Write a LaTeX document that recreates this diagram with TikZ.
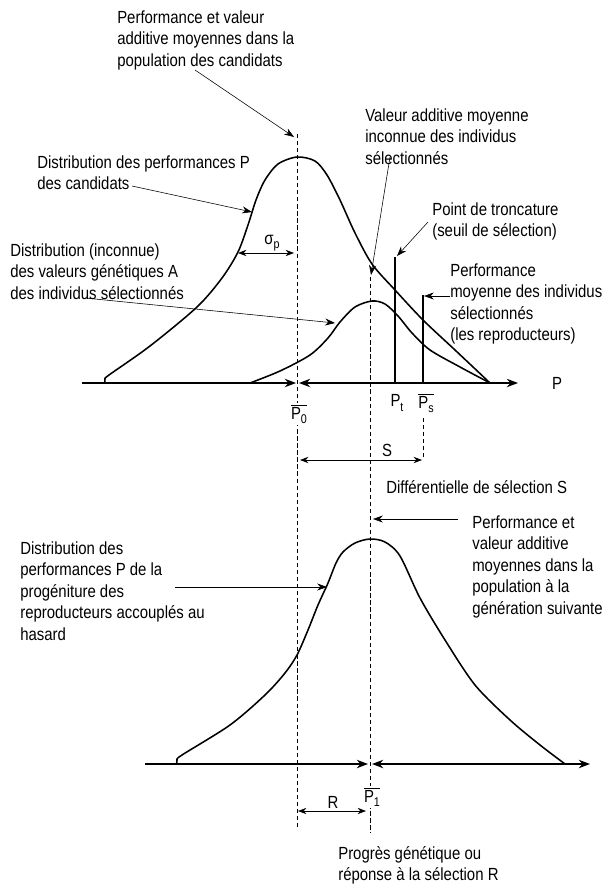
\documentclass[tikz,border=0pt]{standalone}
\usepackage{fontspec}
\setmainfont{Liberation Sans}[FakeStretch=0.85]
\usetikzlibrary{arrows.meta,positioning}

\begin{document}
\begin{tikzpicture}[x=0.025cm, y=-0.025cm,
    lbl/.style={anchor=north west, inner sep=0pt, align=left, font=\fontsize{12.5}{15.4}\selectfont},
    sym/.style={inner sep=1pt, font=\fontsize{12.5}{15}\selectfont},
    curve/.style={line width=1.1pt, line join=round},
    axis/.style={line width=1pt},
    ldr/.style={line width=0.4pt, -{Stealth[length=7pt,width=5pt]}},
    dim/.style={line width=0.5pt, {Stealth[length=6pt,width=4.5pt]}-{Stealth[length=6pt,width=4.5pt]}},
    guide/.style={line width=0.5pt, dash pattern=on 3pt off 2pt}]
    \useasboundingbox (0,0) rectangle (606,886);

    % Guide lines
    \coordinate (gzerotop) at (297,134);
    \coordinate (gzerobot) at (297,830);
    \coordinate (gonetop) at (370,277);
    \coordinate (gonebot) at (370,833);
    \coordinate (gstop) at (423,418);
    \coordinate (gsbot) at (423,460);
    \draw[guide] (gzerotop) -- (gzerobot);
    \draw[guide] (gonetop) -- (gonebot);
    \draw[guide] (gstop) -- (gsbot);

    % Upper axis
    \coordinate (uaxstart) at (82,383);
    \coordinate (uaxzl) at (296,383);
    \coordinate (uaxzr) at (299,383);
    \coordinate (uaxend) at (518,383);
    \draw[axis, -{Stealth[length=8pt,width=6pt]}] (uaxstart) -- (uaxzl);
    \draw[axis, {Stealth[length=8pt,width=6pt]}-{Stealth[length=8pt,width=6pt]}] (uaxzr) -- (uaxend);
    \node[sym] (paxis) at (557,383) {P};

    % Candidates and selected
    \draw[curve] plot[smooth] coordinates {(105,383) (105,379) (109,375) (150,346)
        (197,307) (222,278) (238,252) (248,225) (256,200) (265,180) (278,164) (297,157)
        (315,161) (327,175) (340,200) (355,233) (372,264) (395,290) (423,320) (455,350) (490,383)};
    \draw[curve] plot[smooth] coordinates {(250,383) (280,371) (310,355) (328,338) (340,322)
        (355,307) (372,301) (385,304) (398,316) (412,333) (430,350) (460,367) (490,383)};

    % Truncation and mean of selected
    \coordinate (pttop) at (395,257);
    \coordinate (ptbot) at (395,383);
    \coordinate (pstop) at (423,295);
    \coordinate (psbot) at (423,383);
    \draw[axis] (pttop) -- (ptbot);
    \draw[axis] (pstop) -- (psbot);

    % Symbols
    \node[sym, fill=white] (pzero) at (299,414) {$\overline{\mbox{P\raisebox{-0.45ex}{\small 0}}}$};
    \node[sym] (ptrunc) at (397,403) {P\raisebox{-0.45ex}{\small t}};
    \node[sym] (psel) at (426,403) {$\overline{\mbox{P\raisebox{-0.45ex}{\small s}}}$};
    \node[sym] (sigp) at (272,243) {σ\raisebox{-0.45ex}{\small p}};
    \node[sym] (slbl) at (387,450) {S};

    % Dimensions
    \coordinate (sigl) at (238,253);
    \coordinate (sigr) at (294,253);
    \coordinate (sl) at (300,460);
    \coordinate (sr) at (422,460);
    \draw[dim] (sigl) -- (sigr);
    \draw[dim] (sl) -- (sr);

    % Upper labels
    \node[lbl] (popcand) at (117,10) {Performance et valeur\\additive moyennes dans la\\population des candidats};
    \node[lbl] (distcand) at (37,155) {Distribution des performances P\\des candidats};
    \node[lbl] (distA) at (10,243) {Distribution (inconnue)\\des valeurs génétiques A\\des individus sélectionnés};
    \node[lbl] (valadd) at (365,108) {Valeur additive moyenne\\inconnue des individus\\sélectionnés};
    \node[lbl] (tronc) at (432,202) {Point de troncature\\(seuil de sélection)};
    \node[lbl] (perfsel) at (450,263) {Performance\\moyenne des individus\\sélectionnés\\(les reproducteurs)};
    \node[lbl] (diffsel) at (386,480) {Différentielle de sélection S};

    % Upper leaders
    \coordinate (popcandl) at (195,70);
    \coordinate (popcandt) at (294,137);
    \coordinate (distcandl) at (132,186);
    \coordinate (distcandt) at (252,212);
    \coordinate (distAl) at (85,298);
    \coordinate (distAt) at (335,323);
    \coordinate (valaddl) at (390,157);
    \coordinate (valaddt) at (371,275);
    \coordinate (troncl) at (428,222);
    \coordinate (tronct) at (397,256);
    \coordinate (perfsell) at (450,296);
    \coordinate (perfselt) at (424,296);
    \draw[ldr] (popcandl) -- (popcandt);
    \draw[ldr] (distcandl) -- (distcandt);
    \draw[ldr] (distAl) -- (distAt);
    \draw[ldr] (valaddl) -- (valaddt);
    \draw[ldr] (troncl) -- (tronct);
    \draw[ldr] (perfsell) -- (perfselt);

    % Lower axis
    \coordinate (laxstart) at (145,764);
    \coordinate (laxol) at (368,764);
    \coordinate (laxor) at (372,764);
    \coordinate (laxend) at (590,764);
    \draw[axis, -{Stealth[length=8pt,width=6pt]}] (laxstart) -- (laxol);
    \draw[axis, {Stealth[length=8pt,width=6pt]}-{Stealth[length=8pt,width=6pt]}] (laxor) -- (laxend);

    % Offspring
    \draw[curve] plot[smooth] coordinates {(177,764) (177,760) (182,755) (230,725) (265,695)
        (285,673) (297,655) (308,630) (318,605) (328,583) (336,563) (343,552) (355,543) (370,539)
        (385,542) (400,556) (420,598) (445,640) (475,685) (510,720) (540,745) (565,764)};

    \node[sym, fill=white] (pone) at (372,797) {$\overline{\mbox{P\raisebox{-0.45ex}{\small 1}}}$};
    \node[sym] (rlbl) at (333,802) {R};
    \coordinate (rl) at (298,811);
    \coordinate (rr) at (366,811);
    \draw[dim] (rl) -- (rr);

    % Lower labels
    \node[lbl] (popnext) at (472,515) {Performance et\\valeur additive\\moyennes dans la\\population à la\\génération suivante};
    \node[lbl] (distoff) at (20,541) {Distribution des\\performances P de la\\progéniture des\\reproducteurs accouplés au\\hasard};
    \node[lbl] (progres) at (338,846) {Progrès génétique ou\\réponse à la sélection R};

    % Lower leaders
    \coordinate (popnextl) at (458,519);
    \coordinate (popnextt) at (373,519);
    \coordinate (distoffl) at (175,587);
    \coordinate (distofft) at (327,587);
    \draw[ldr] (popnextl) -- (popnextt);
    \draw[ldr] (distoffl) -- (distofft);
\end{tikzpicture}
\end{document}
